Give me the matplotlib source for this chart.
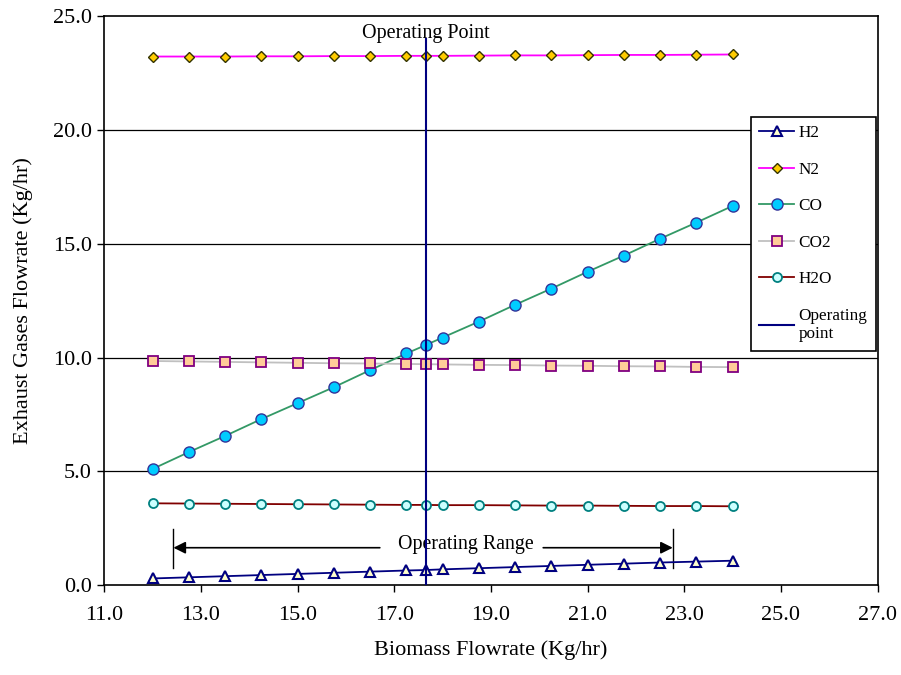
import numpy as np
import matplotlib.pyplot as plt

plt.rcParams['font.family'] = ['Liberation Serif', 'DejaVu Serif']

# Biomass flowrate (Kg/hr) - includes the operating point 17.65
biomass = [12.0, 12.75, 13.5, 14.25, 15.0, 15.75, 16.5, 17.25, 17.65, 18.0,
           18.75, 19.5, 20.25, 21.0, 21.75, 22.5, 23.25, 24.0]

# Exhaust gases flowrate (Kg/hr)
h2 = [0.30, 0.35, 0.40, 0.45, 0.50, 0.55, 0.60, 0.65, 0.67, 0.70,
      0.75, 0.80, 0.85, 0.90, 0.95, 1.00, 1.04, 1.08]
n2 = [23.22, 23.22, 23.22, 23.23, 23.23, 23.24, 23.24, 23.25, 23.25, 23.25,
      23.26, 23.27, 23.27, 23.28, 23.29, 23.29, 23.30, 23.31]
co = [5.11, 5.85, 6.56, 7.30, 8.00, 8.70, 9.45, 10.18, 10.55, 10.88,
      11.58, 12.32, 13.03, 13.77, 14.48, 15.22, 15.93, 16.66]
co2 = [9.85, 9.83, 9.81, 9.79, 9.77, 9.75, 9.74, 9.72, 9.71, 9.70,
       9.68, 9.67, 9.65, 9.64, 9.62, 9.61, 9.59, 9.58]
h2o = [3.60, 3.59, 3.58, 3.57, 3.56, 3.55, 3.54, 3.53, 3.53, 3.52,
       3.52, 3.51, 3.50, 3.50, 3.49, 3.48, 3.48, 3.47]

op_x = [17.65, 17.65]
op_y = [0.0, 24.0]

xticks = np.arange(11, 28, 2)
yticks = np.arange(0, 26, 5)

fig = plt.figure(figsize=(9.01, 6.75), dpi=100)
ax = fig.add_axes([0.1158, 0.1329, 0.8583, 0.8434])

for y in yticks[1:-1]:
    ax.axhline(y, color='black', lw=0.9, zorder=0)

ax.plot(biomass, h2, color='#000080', lw=1.3, marker='^', ms=6.5,
        mfc='#FFFFCC', mec='#000080', mew=1.5, label='H2', zorder=3)
ax.plot(biomass, n2, color='#FF00FF', lw=1.3, marker='D', ms=5,
        mfc='#FFCC00', mec='#333300', mew=1.0, label='N2', zorder=3)
ax.plot(biomass, co, color='#339966', lw=1.3, marker='o', ms=8,
        mfc='#00CCFF', mec='#333399', mew=1.0, label='CO', zorder=3)
ax.plot(biomass, co2, color='#C0C0C0', lw=1.3, marker='s', ms=6.5,
        mfc='#FFCC99', mec='#800080', mew=1.3, label='CO2', zorder=3)
ax.plot(biomass, h2o, color='#800000', lw=1.3, marker='o', ms=6.5,
        mfc='#CCFFFF', mec='#008080', mew=1.3, label='H2O', zorder=3)
ax.plot(op_x, op_y, color='#000080', lw=1.5, label='Operating\npoint', zorder=4)

ax.text(17.65, 24.25, 'Operating Point', ha='center', va='center', fontsize=14.5)

# operating range annotation
ax.plot([12.43, 12.43], [0.75, 2.47], color='black', lw=1)
ax.plot([22.76, 22.76], [0.75, 2.47], color='black', lw=1)
ax.annotate('', xy=(12.43, 1.65), xytext=(16.7, 1.65),
            arrowprops=dict(arrowstyle='-|>', color='black', lw=1.2, mutation_scale=18,
                            shrinkA=0, shrinkB=0))
ax.annotate('', xy=(22.76, 1.65), xytext=(20.08, 1.65),
            arrowprops=dict(arrowstyle='-|>', color='black', lw=1.2, mutation_scale=18,
                            shrinkA=0, shrinkB=0))
ax.text(18.47, 1.81, 'Operating Range', ha='center', va='center', fontsize=14.3)

ax.set_xlim(11, 27)
ax.set_ylim(0, 25)
ax.set_xticks(xticks)
ax.set_yticks(yticks)
ax.set_xticklabels(['%.1f' % t for t in xticks])
ax.set_yticklabels(['%.1f' % t for t in yticks])
ax.tick_params(direction='out', length=5, width=1, labelsize=16, pad=10)
ax.tick_params(axis='y', pad=4)
for s in ax.spines.values():
    s.set_linewidth(1.2)

ax.set_xlabel('Biomass Flowrate (Kg/hr)', fontsize=16, labelpad=11)
ax.set_ylabel('Exhaust Gases Flowrate (Kg/hr)', fontsize=16, labelpad=14)

leg = ax.legend(loc='upper left', bbox_to_anchor=(0.836, 0.823), fontsize=12.3,
                frameon=True, fancybox=False, edgecolor='black', framealpha=1,
                handlelength=2.05, handletextpad=0.25, labelspacing=1.2,
                borderpad=0.5, borderaxespad=0)
leg.get_frame().set_linewidth(1.2)

fig.savefig('out.png', dpi=100)
